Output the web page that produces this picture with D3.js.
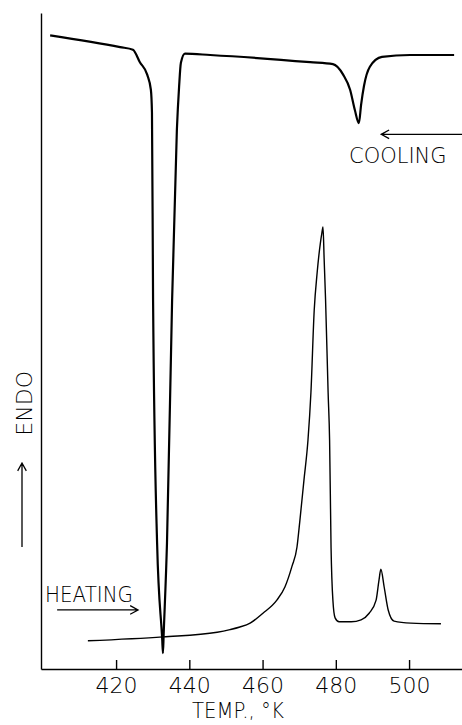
<!DOCTYPE html>
<meta charset="utf-8">
<style>
body { margin: 0; background: #fff; }
.axis path, .axis line { stroke: #000; stroke-width: 1.4px; }
.axis text { font-family: "DejaVu Sans", sans-serif; font-size: 22px; font-weight: 300; fill: #000; }
.label { font-family: "DejaVu Sans", sans-serif; font-weight: 300; fill: #000; }
.trace { fill: none; stroke: #000; stroke-linejoin: round; }
.arrow { fill: none; stroke: #000; stroke-width: 1.3px; }
</style>
<svg width="462" height="725"></svg>
<script src="https://cdn.jsdelivr.net/npm/d3@7"></script>
<script>

// DTA traces, temperature in K and signal in arbitrary units (0-100)
var coolingT = [402.0, 421.1, 424.6, 426.5, 428.5, 429.5, 429.8, 430.1, 431.2, 432.6,
                432.8, 433.0, 433.9, 435.3, 436.6, 437.2, 437.7, 438.8, 445.7, 473.0,
                479.2, 482.0, 483.9, 485.2, 486.3, 486.9, 487.7, 489.3, 492.6, 500.3,
                512.3];
var coolingV = [96.6, 94.8, 94.4, 92.5, 90.6, 88.3, 84.8, 56.3, 19.2, 4.5,
                2.4, 5.4, 19.2, 56.3, 82.2, 88.7, 92.4, 93.8, 93.6, 92.5,
                92.2, 90.6, 88.3, 85.2, 83.2, 86.0, 88.9, 91.8, 93.3, 93.6,
                93.6];

var heatingT = [412.3, 432.8, 447.6, 451.1, 453.8, 456.6, 460.1, 463.9, 466.1, 468.0,
                469.4, 470.2, 471.3, 472.4, 473.2, 474.1, 474.9, 476.2, 476.5, 476.8,
                477.2, 477.9, 478.3, 478.7, 479.2, 479.8, 480.9, 484.2, 486.9, 489.1,
                491.0, 491.8, 492.3, 493.2, 494.3, 495.9, 500.5, 508.7];
var heatingV = [4.3, 4.9, 5.6, 6.0, 6.4, 7.0, 8.5, 10.5, 12.5, 15.6,
                18.6, 22.7, 28.8, 34.9, 42.1, 54.7, 60.4, 66.5, 67.4, 62.7,
                56.3, 42.1, 34.9, 18.5, 10.5, 7.8, 7.2, 7.2, 7.5, 8.5,
                10.5, 13.6, 15.2, 12.5, 9.0, 7.3, 7.0, 6.9];

var tickValues = [420, 440, 460, 480, 500];

var svg = d3.select("svg"),
    margin = {top: 13, right: 0, bottom: 56, left: 41},
    w = +svg.attr("width") - margin.left - margin.right,
    h = +svg.attr("height") - margin.top - margin.bottom;

var x = d3.scaleLinear().domain([399.5, 515]).range([0, 423]),
    y = d3.scaleLinear().domain([0, 100]).range([h, 0]);

var g = svg.append("g").attr("transform", "translate(" + margin.left + "," + margin.top + ")");

var line = d3.line()
    .curve(d3.curveMonotoneX)
    .x(function(d) { return x(d[0]); })
    .y(function(d) { return y(d[1]); });

// x axis with inward ticks
g.append("g")
    .attr("class", "axis x-axis")
    .attr("transform", "translate(0," + h + ")")
    .call(d3.axisBottom(x).tickValues(tickValues).tickSize(-9).tickSizeOuter(0).tickPadding(8));

// y axis, bare line
g.append("g")
    .attr("class", "axis y-axis")
    .call(d3.axisLeft(y).tickValues([]).tickSizeOuter(0));

// traces
g.append("path")
    .datum(d3.zip(coolingT, coolingV))
    .attr("class", "trace")
    .attr("stroke-width", 2.2)
    .attr("d", line);

g.append("path")
    .datum(d3.zip(heatingT, heatingV))
    .attr("class", "trace")
    .attr("stroke-width", 1.4)
    .attr("d", line);

// annotations
function arrow(x1, y1, x2, y2) {
  var a = Math.atan2(y2 - y1, x2 - x1), L = 9, s = 0.5;
  g.append("path")
      .attr("class", "arrow")
      .attr("d", "M" + x1 + "," + y1 + "L" + x2 + "," + y2 +
        "M" + (x2 - L * Math.cos(a - s)) + "," + (y2 - L * Math.sin(a - s)) +
        "L" + x2 + "," + y2 +
        "L" + (x2 - L * Math.cos(a + s)) + "," + (y2 - L * Math.sin(a + s)));
}

arrow(x(515), y(81.5), x(492.4), y(81.5));
g.append("text").attr("class", "label")
    .attr("x", x(483.6)).attr("y", y(77.1))
    .style("font-size", "21px")
    .text("COOLING");

arrow(x(403.9), y(9.0), x(426.0), y(9.0));
g.append("text").attr("class", "label")
    .attr("x", x(400.6)).attr("y", y(10.2))
    .attr("textLength", 88).attr("lengthAdjust", "spacingAndGlyphs")
    .style("font-size", "21px")
    .text("HEATING");

// y label and arrow in left margin
g.append("text").attr("class", "label")
    .attr("transform", "translate(-9," + y(40.5) + ") rotate(-90)")
    .attr("text-anchor", "middle")
    .style("font-size", "22px")
    .text("ENDO");

arrow(-19, y(18.6), -19, y(31.4));

g.append("text").attr("class", "label")
    .attr("x", x(440.7)).attr("y", h + 49)
    .attr("textLength", 92).attr("lengthAdjust", "spacingAndGlyphs")
    .style("font-size", "21px")
    .text("TEMP., \u00B0K");

</script>
